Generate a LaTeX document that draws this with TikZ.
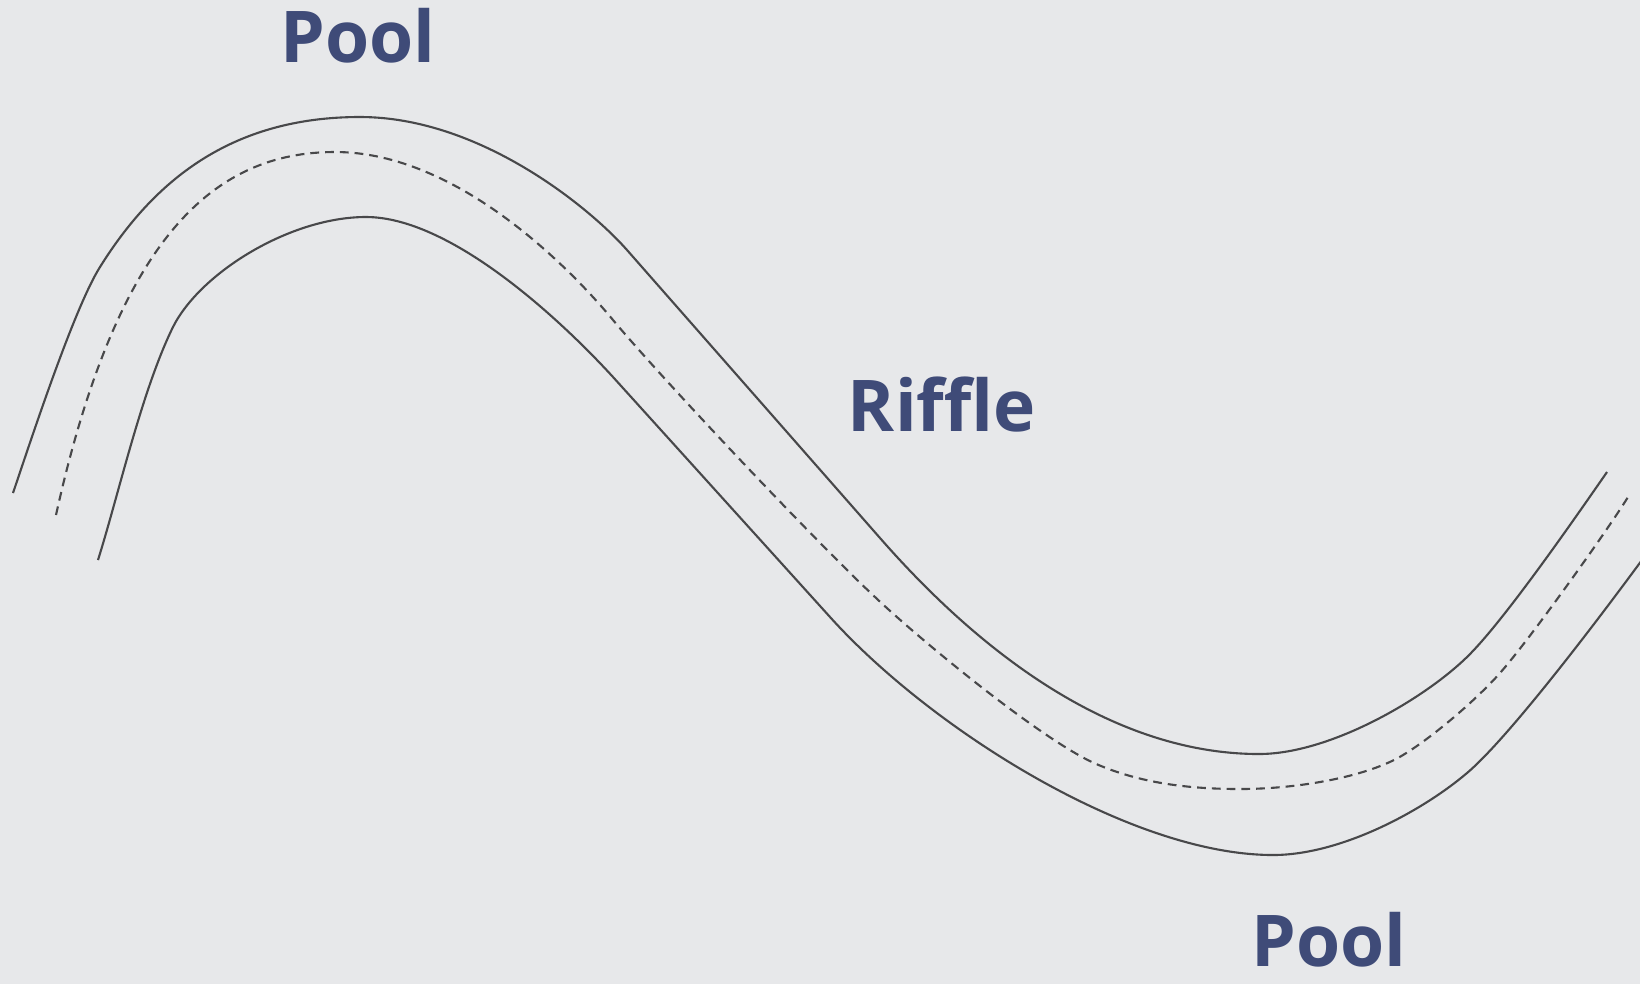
\documentclass[tikz,border=0pt]{standalone}
\usepackage{fontspec}
\setmainfont{Open Sans}
\definecolor{bg}{RGB}{231,232,234}
\definecolor{bank}{RGB}{72,72,74}
\definecolor{label}{RGB}{63,75,120}
\begin{document}
\begin{tikzpicture}[x=0.01cm,y=-0.01cm,
  bankline/.style={draw=bank,line width=0.6pt},
  thalweg/.style={draw=bank,line width=0.6pt,dash pattern=on 2.5pt off 1.7pt},
  reach/.style={text=label,font=\fontsize{20.3}{24}\bfseries\selectfont,inner sep=0pt,anchor=base}]
% canvas
\fill[bg] (0,0) rectangle (1640,984);
\useasboundingbox (0,0) rectangle (1640,984);
\begin{scope}
\clip (0,0) rectangle (1640,984);
% outer bank
\draw[bankline] (13,493)
  .. controls (29,446) and (73.5,309) .. (100,267)
  .. controls (153,182) and (230,117) .. (360,117)
  .. controls (480,117) and (590,208) .. (627,250)
  -- (880,538)
  .. controls (1000,675) and (1130,754) .. (1259,754)
  .. controls (1330,754) and (1424,699) .. (1467,657)
  .. controls (1503,622) and (1573,521) .. (1607,472);
% channel centre line
\draw[thalweg] (56,515)
  .. controls (118,235) and (215,152) .. (335,152)
  .. controls (460,152) and (575,274) .. (613,320)
  .. controls (664,381) and (817,543) .. (875,597)
  .. controls (918,638) and (1039,738) .. (1094,763)
  .. controls (1140,783.5) and (1190,789) .. (1240,789)
  .. controls (1300,789) and (1369,776) .. (1403,755)
  .. controls (1433,737) and (1477,699) .. (1500,673)
  .. controls (1530,639) and (1607,531) .. (1628,497);
% inner bank
\draw[bankline] (98,560)
  .. controls (119,493) and (142,390) .. (173,327)
  .. controls (200,273) and (290,217) .. (366,217)
  .. controls (450,217) and (559,318) .. (613,377)
  -- (830,617)
  .. controls (930,728) and (1130,855) .. (1273,855)
  .. controls (1340,855) and (1421,812) .. (1467,773)
  .. controls (1513,734) and (1615,597) .. (1650,549);
% reach labels
\node[reach] (poolA) at (358,62) {Pool};
\node[reach] (riffle) at (942,431) {Riffle};
\node[reach] (poolB) at (1329,966) {Pool};
\end{scope}
\end{tikzpicture}
\end{document}
